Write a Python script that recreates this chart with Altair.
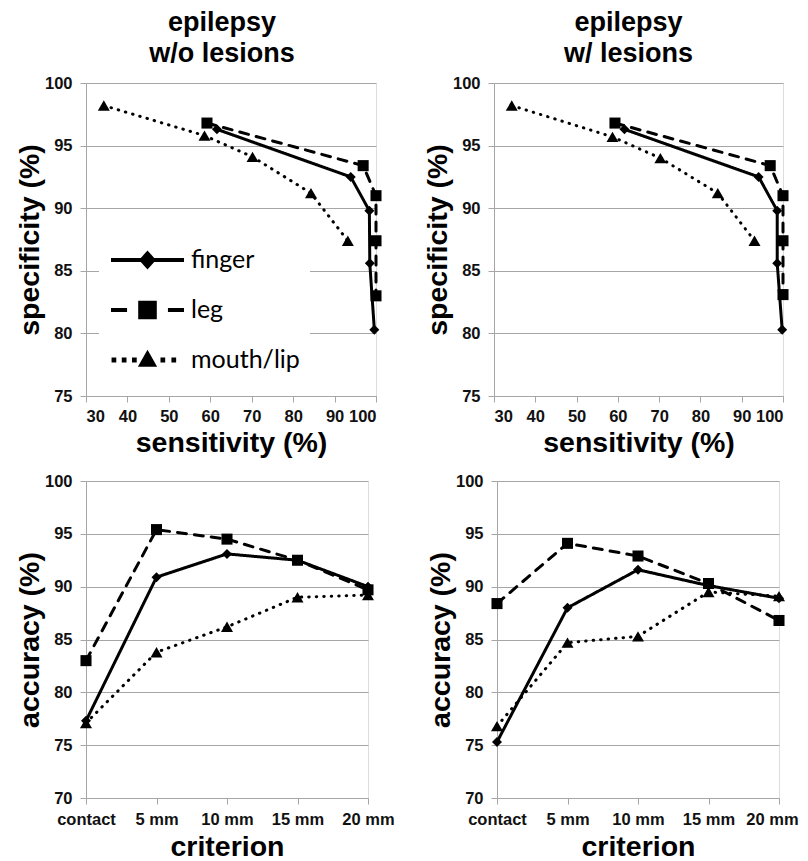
import altair as alt
import pandas as pd

series = ["finger", "leg", "mouth/lip"]

# ---- top panels: specificity vs sensitivity ----
# epilepsy w/o lesions
wo_sens_finger = [61.6, 93.9, 98.4, 98.5, 99.6]
wo_spec_finger = [96.3, 92.5, 89.8, 85.6, 80.3]
wo_sens_leg = [59.2, 96.9, 100.0, 100.0, 100.0]
wo_spec_leg = [96.8, 93.4, 91.0, 87.4, 83.0]
wo_sens_mouth = [34.3, 58.6, 70.2, 84.3, 93.2]
wo_spec_mouth = [98.2, 95.8, 94.1, 91.2, 87.4]
# epilepsy w/ lesions
w_sens_finger = [61.6, 94.1, 98.6, 98.6, 99.8]
w_spec_finger = [96.3, 92.5, 89.8, 85.6, 80.3]
w_sens_leg = [59.3, 96.9, 100.0, 100.0, 100.0]
w_spec_leg = [96.8, 93.4, 91.0, 87.4, 83.1]
w_sens_mouth = [34.3, 58.7, 70.3, 84.2, 93.1]
w_spec_mouth = [98.2, 95.7, 94.0, 91.2, 87.4]

# ---- bottom panels: accuracy vs criterion ----
criteria = ["contact", "5 mm", "10 mm", "15 mm", "20 mm"]
wo_acc_finger = [77.3, 90.9, 93.1, 92.5, 90.0]
wo_acc_leg = [83.0, 95.4, 94.5, 92.5, 89.7]
wo_acc_mouth = [77.1, 83.8, 86.2, 89.0, 89.2]
w_acc_finger = [75.3, 88.0, 91.6, 90.1, 88.9]
w_acc_leg = [88.4, 94.1, 92.9, 90.3, 86.8]
w_acc_mouth = [76.8, 84.7, 85.3, 89.5, 89.1]

FONT = "Liberation Sans"
GRID = "#a6a6a6"


def roc_df(sf, pf, sl, pl, sm, pm):
    rows = []
    for name, xs, ys in zip(series, [sf, sl, sm], [pf, pl, pm]):
        for i, (x, y) in enumerate(zip(xs, ys)):
            rows.append({"series": name, "idx": i, "sens": x, "spec": y})
    return pd.DataFrame(rows)


def acc_df(af, al, am):
    rows = []
    for name, ys in zip(series, [af, al, am]):
        for i, (c, y) in enumerate(zip(criteria, ys)):
            rows.append({"series": name, "idx": i, "crit": c, "acc": y})
    return pd.DataFrame(rows)


dash_enc = alt.StrokeDash(
    "series:N",
    scale=alt.Scale(domain=series, range=[[1, 0], [9, 8], [0.5, 7]]),
    legend=None,
)
width_enc = alt.StrokeWidth(
    "series:N",
    scale=alt.Scale(domain=series, range=[3, 3, 3.8]),
    legend=None,
)
shape_enc = alt.Shape(
    "series:N",
    scale=alt.Scale(domain=series, range=["diamond", "square", "triangle-up"]),
    legend=None,
)
size_enc = alt.Size(
    "series:N",
    scale=alt.Scale(domain=series, range=[100, 144, 130]),
    legend=None,
)

legend_paths = [
    "M-1,0L1,0M-0.16,0L0,-0.18L0.16,0L0,0.18Z",
    "M-1,0L-0.56,0M0.56,0L1,0M-0.2,-0.2L0.2,-0.2L0.2,0.2L-0.2,0.2Z",
    "M-0.93,-0.012L-0.91,-0.012L-0.91,0.012L-0.93,0.012Z"
    "M-0.65,-0.012L-0.63,-0.012L-0.63,0.012L-0.65,0.012Z"
    "M-0.37,-0.012L-0.35,-0.012L-0.35,0.012L-0.37,0.012Z"
    "M0.41,-0.012L0.43,-0.012L0.43,0.012L0.41,0.012Z"
    "M0.71,-0.012L0.73,-0.012L0.73,0.012L0.71,0.012Z"
    "M0,-0.17L0.17,0.13L-0.17,0.13Z",
]

TICK_LABEL = dict(labelFont=FONT, labelFontSize=16.5, labelFontWeight="bold",
                  labelColor="#111111")
AX_TITLE = dict(titleFont=FONT, titleFontSize=28.5, titleFontWeight="bold",
                titleColor="black")


def y_axis(title, values):
    return alt.Axis(
        values=values, title=title, grid=True, gridColor=GRID, gridWidth=1,
        domainColor=GRID, tickColor=GRID, tickSize=6, labelPadding=8,
        titlePadding=0, **TICK_LABEL, **AX_TITLE,
    )


def x_axis(title, values=None, label_pad=6, title_pad=4, last_shift=0):
    kw = dict(
        title=title, grid=False, domainColor=GRID, tickColor=GRID, tickSize=6,
        labelPadding=label_pad, labelAngle=0, titlePadding=title_pad,
        **TICK_LABEL, **AX_TITLE,
    )
    if values is not None:
        kw["values"] = values
    if last_shift:
        kw["labelOffset"] = {
            "condition": {"test": "datum.value == '20 mm'", "value": last_shift},
            "value": 0,
        }
    return alt.Axis(**kw)


def panel_title(line2, dx):
    return alt.TitleParams(
        text=["epilepsy", line2], font=FONT, fontSize=27, fontWeight="bold",
        color="black", lineHeight=31, anchor="middle", frame="group",
        dx=dx, offset=7,
    )


def roc_panel(df, title, width, with_legend):
    x = alt.X("sens:Q", scale=alt.Scale(domain=[30, 100]),
              axis=x_axis("sensitivity (%)", list(range(30, 101, 10))))
    y = alt.Y("spec:Q", scale=alt.Scale(domain=[75, 100]),
              axis=y_axis("specificity (%)", list(range(75, 101, 5))))
    base = alt.Chart(df)
    lines = base.mark_line(color="black", strokeCap="round").encode(
        x=x, y=y, detail="series:N", strokeDash=dash_enc,
        strokeWidth=width_enc, order="idx:Q")
    pts = base.mark_point(filled=True, color="black", opacity=1).encode(
        x=x, y=y, shape=shape_enc, size=size_enc)
    layers = [lines, pts]
    if with_legend:
        leg = base.mark_point(
            filled=True, color="black", stroke="black", strokeWidth=4,
            opacity=0,
        ).encode(
            x=x, y=y,
            shape=alt.Shape(
                "series:N",
                scale=alt.Scale(domain=series, range=legend_paths),
                legend=alt.Legend(
                    title=None, orient="none", legendX=13, legendY=152,
                    symbolSize=5329, clipHeight=30, rowPadding=20,
                    symbolStrokeWidth=4,
                    labelFont="Lato", labelFontSize=25, labelColor="black",
                    labelOffset=5, labelLimit=300, symbolOpacity=1,
                    fillColor="white", padding=10,
                ),
            ),
        )
        layers.append(leg)
    ch = alt.layer(*layers).properties(width=width, height=313, title=title)
    if with_legend:
        ch = ch.resolve_scale(shape="independent")
    return ch


def acc_panel(df, last_shift):
    x = alt.X("crit:N", sort=criteria,
              scale=alt.Scale(type="point", domain=criteria, padding=0),
              axis=x_axis("criterion", label_pad=7, title_pad=5,
                          last_shift=last_shift))
    y = alt.Y("acc:Q", scale=alt.Scale(domain=[70, 100]),
              axis=y_axis("accuracy (%)", list(range(70, 101, 5))))
    base = alt.Chart(df)
    lines = base.mark_line(color="black", strokeCap="round").encode(
        x=x, y=y, detail="series:N", strokeDash=dash_enc,
        strokeWidth=width_enc, order="idx:Q")
    pts = base.mark_point(filled=True, color="black", opacity=1).encode(
        x=x, y=y, shape=shape_enc, size=size_enc)
    return alt.layer(lines, pts).properties(width=282, height=317)


tl = roc_panel(roc_df(wo_sens_finger, wo_spec_finger, wo_sens_leg, wo_spec_leg,
                      wo_sens_mouth, wo_spec_mouth),
               panel_title("w/o lesions", -9), 290, True)
tr = roc_panel(roc_df(w_sens_finger, w_spec_finger, w_sens_leg, w_spec_leg,
                      w_sens_mouth, w_spec_mouth),
               panel_title("w/ lesions", -10), 289, False)
bl = acc_panel(acc_df(wo_acc_finger, wo_acc_leg, wo_acc_mouth), 0)
br = acc_panel(acc_df(w_acc_finger, w_acc_leg, w_acc_mouth), -7)

top = alt.hconcat(tl, tr, spacing=39)
bottom = alt.hconcat(bl, br, spacing=30)

chart = (
    alt.vconcat(top, bottom, spacing=14)
    .properties(padding={"left": 6, "top": 0, "right": 0, "bottom": 0})
    .configure_view(strokeWidth=0)
    .configure(font=FONT)
)

chart.save("out.html", embed_options={"renderer": "svg", "actions": False})
